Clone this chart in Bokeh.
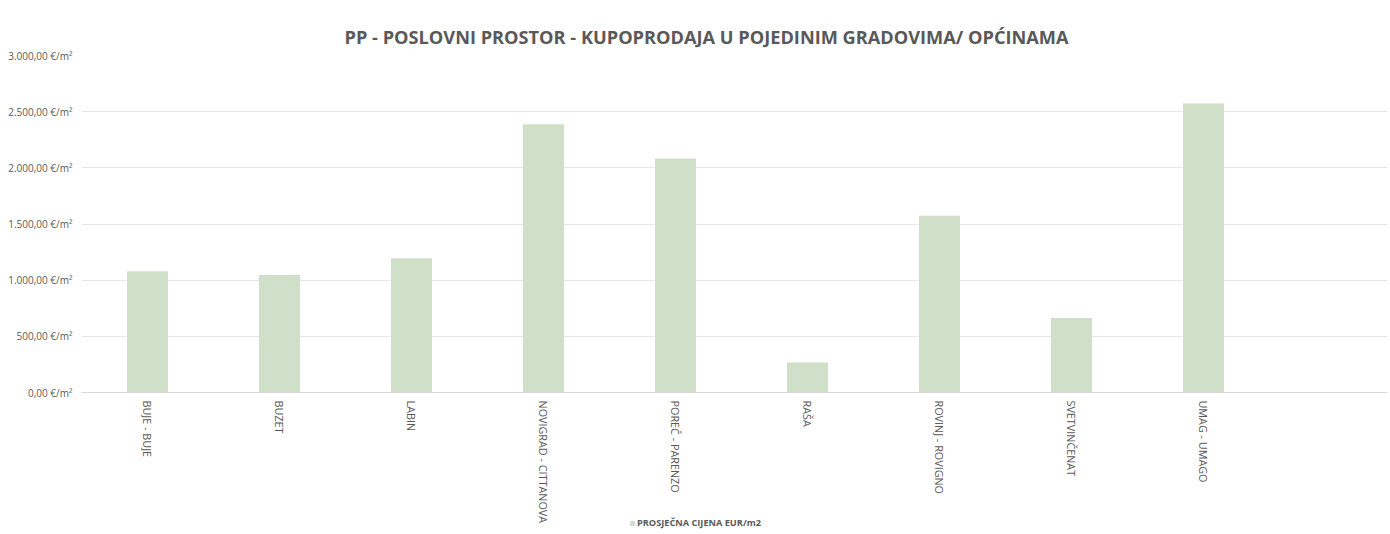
from bokeh.plotting import figure
from bokeh.layouts import column
from bokeh.models import ColumnDataSource, Range1d, FixedTicker, Legend, LegendItem, Title
from bokeh.embed import file_html
from bokeh.resources import INLINE

# ---- data ----
categories = ["BUJE - BUJE", "BUZET", "LABIN", "NOVIGRAD - CITTANOVA", "POREČ - PARENZO",
              "RAŠA", "ROVINJ - ROVIGNO", "SVETVINČENAT", "UMAG - UMAGO"]
prices = [1080, 1045, 1196, 2387, 2083, 268, 1574, 663, 2573]
y_ticks = [0, 500, 1000, 1500, 2000, 2500, 3000]
y_tick_labels = ["0,00 €/m²", "500,00 €/m²", "1.000,00 €/m²", "1.500,00 €/m²",
                 "2.000,00 €/m²", "2.500,00 €/m²", "3.000,00 €/m²"]
series_name = "PROSJEČNA CIJENA EUR/m2"
title_text = "PP - POSLOVNI PROSTOR - KUPOPRODAJA U POJEDINIM GRADOVIMA/ OPĆINAMA"

xpos = [i + 0.5 for i in range(len(categories))]
src = ColumnDataSource(dict(x=xpos, top=prices, cat=categories))

FONT = "Open Sans"
GREY = "#595959"
BAR = "#d0dfc8"

p = figure(width=1387, height=526, output_backend="svg", toolbar_location=None,
           x_range=Range1d(0, 1306 / 132), y_range=Range1d(0, 3000),
           min_border_left=81, min_border_right=0, min_border_top=55, min_border_bottom=134)
p.outline_line_color = None
p.background_fill_color = "white"
p.border_fill_color = "white"

r = p.vbar(x="x", top="top", width=41 / 132, bottom=0, source=src,
           fill_color=BAR, line_color=None)

# title
t = Title(text=title_text, align="left", text_font=FONT, text_font_size="18.2px",
          text_font_style="bold", text_color=GREY, offset=263, standoff=13)
p.add_layout(t, "above")

# y axis
p.yaxis.ticker = FixedTicker(ticks=y_ticks)
p.yaxis.major_label_overrides = {v: l for v, l in zip(y_ticks, y_tick_labels)}
p.yaxis.axis_line_color = None
p.yaxis.major_tick_line_color = None
p.yaxis.minor_tick_line_color = None
p.yaxis.major_tick_out = 0
p.yaxis.major_tick_in = 0
p.yaxis.major_label_text_font = FONT
p.yaxis.major_label_text_font_size = "10px"
p.yaxis.major_label_text_color = GREY
p.yaxis.major_label_standoff = 9

# x axis
p.xaxis.ticker = FixedTicker(ticks=xpos)
p.xaxis.major_label_overrides = {x: c for x, c in zip(xpos, categories)}
p.xaxis.major_label_orientation = "vertical"
p.xaxis.axis_line_color = "#d9d9d9"
p.xaxis.major_tick_line_color = None
p.xaxis.minor_tick_line_color = None
p.xaxis.major_tick_out = 0
p.xaxis.major_tick_in = 0
p.xaxis.major_label_text_font = FONT
p.xaxis.major_label_text_font_size = "10.8px"
p.xaxis.major_label_text_color = GREY
p.xaxis.major_label_standoff = 8

p.xgrid.grid_line_color = None
p.ygrid.grid_line_color = "#e6e6e6"
p.ygrid.ticker = FixedTicker(ticks=y_ticks)

# legend strip (legend proxy shares the bar data, kept hidden)
p2 = figure(width=1387, height=12, output_backend="svg", toolbar_location=None,
            x_range=Range1d(0, 1), y_range=Range1d(0, 1),
            x_axis_location=None, y_axis_location=None,
            min_border_left=0, min_border_right=0, min_border_top=0, min_border_bottom=0)
p2.grid.grid_line_color = None
p2.outline_line_color = None
p2.background_fill_alpha = 0
p2.border_fill_alpha = 0
r2 = p2.vbar(x="x", top="top", width=0.1, source=src, fill_color=BAR, line_color=None,
             visible=False)
legend = Legend(items=[LegendItem(label=series_name, renderers=[r2])],
                location=(548, 0), orientation="horizontal",
                label_text_font=FONT, label_text_font_size="9.2px", label_text_font_style="bold",
                label_text_color=GREY, glyph_width=6, glyph_height=6, label_standoff=2,
                padding=1, margin=0, border_line_color=None, background_fill_alpha=0,
                inactive_fill_alpha=0, label_height=10)
p2.add_layout(legend, "center")
p2.styles = {"margin-top": "-9px"}

layout = column(p, p2, spacing=0)
open("out.html", "w").write(file_html(layout, INLINE))
